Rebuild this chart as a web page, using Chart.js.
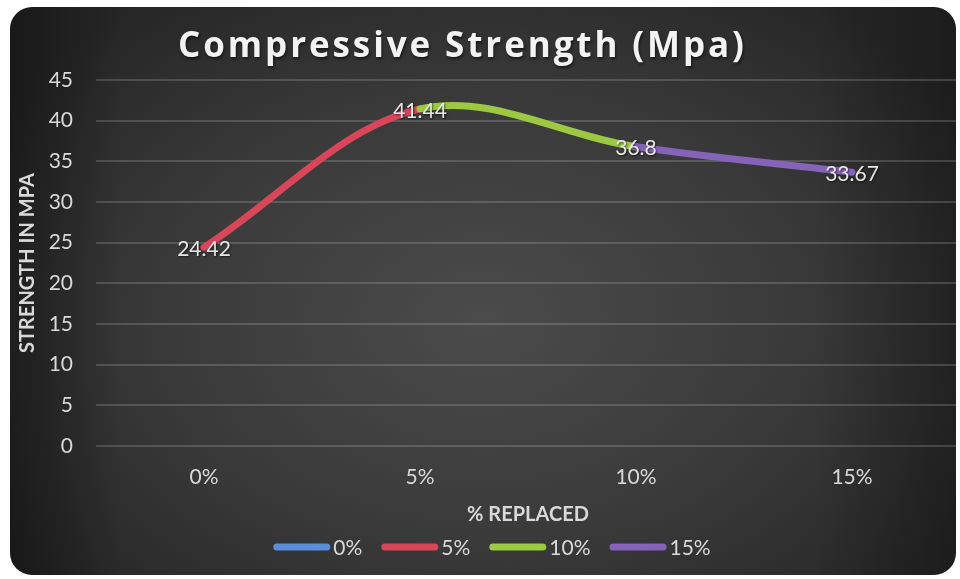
<!DOCTYPE html>
<html>
<head>
<meta charset="utf-8">
<title>Compressive Strength (Mpa)</title>
<script src="https://cdn.jsdelivr.net/npm/chart.js@4.4.1/dist/chart.umd.min.js"></script>
<style>
  html, body { margin: 0; padding: 0; background: #ffffff; }
  #wrap { position: relative; width: 960px; height: 579px; overflow: hidden; }
  #panel {
    position: absolute; left: 10px; top: 7px; width: 946px; height: 568px;
    border-radius: 22px;
    background:
      linear-gradient(90deg, rgba(0,0,0,0.35) 0%, rgba(0,0,0,0) 12%, rgba(0,0,0,0) 85%, rgba(0,0,0,0.25) 100%),
      radial-gradient(ellipse 60% 70% at 50% 55%, #4b4b4b 0%, #3a3a3a 55%, #262626 100%);
  }
  canvas { position: absolute; left: 0; top: 0; }
</style>
</head>
<body>
<div id="wrap">
  <div id="panel"></div>
  <canvas id="chart" width="960" height="579"></canvas>
</div>
<script>
// Replacement levels on the x axis
const categories = ['0%', '5%', '10%', '15%'];
// Compressive strength in MPa at each level
const strength = [24.42, 41.44, 36.8, 33.67];
// Legend series names and their colours
const seriesNames = ['0%', '5%', '10%', '15%'];
const seriesColors = ['#5b8ed8', '#d9465a', '#9cc843', '#8463b8'];
// Value axis ticks
const yMin = 0, yMax = 45, yStep = 5;

const chartTitle = 'Compressive Strength (Mpa)';
const FONT = "Lato, 'Open Sans', sans-serif";
const TEXT = '#d9d9d9';

// Draw text with extra tracking between glyphs, centred on cx
function spacedText(ctx, text, cx, y, spacing) {
  const widths = [...text].map(ch => ctx.measureText(ch).width);
  const total = widths.reduce((a, b) => a + b, 0) + spacing * (widths.length - 1);
  let x = cx - total / 2;
  ctx.textAlign = 'left';
  [...text].forEach((ch, i) => {
    ctx.fillText(ch, x, y);
    x += widths[i] + spacing;
  });
}

// Spaced-out heading at the top of the panel
const headingPlugin = {
  id: 'heading',
  afterDraw(chart) {
    const { ctx } = chart;
    ctx.save();
    ctx.font = "bold 35px 'Open Sans', sans-serif";
    ctx.textBaseline = 'alphabetic';
    ctx.fillStyle = '#f2f2f2';
    ctx.shadowColor = 'rgba(0,0,0,0.55)';
    ctx.shadowBlur = 3;
    ctx.shadowOffsetX = 1;
    ctx.shadowOffsetY = 2;
    spacedText(ctx, chartTitle, 461, 57, 2.9);
    ctx.restore();
  }
};

// Value labels centred on each point
const valueLabels = {
  id: 'valueLabels',
  afterDatasetsDraw(chart) {
    const { ctx } = chart;
    const meta = chart.getDatasetMeta(0);
    ctx.save();
    ctx.font = '21px ' + FONT;
    ctx.textAlign = 'center';
    ctx.textBaseline = 'middle';
    ctx.shadowColor = 'rgba(0,0,0,0.6)';
    ctx.shadowBlur = 2;
    ctx.shadowOffsetX = 1;
    ctx.shadowOffsetY = 1;
    ctx.fillStyle = '#e8e8e8';
    meta.data.forEach((pt, i) => {
      ctx.fillText(String(strength[i]), pt.x, pt.y + 2);
    });
    ctx.restore();
  }
};

// Series key under the axis title: rounded line swatch then name
const seriesKey = {
  id: 'seriesKey',
  afterDraw(chart) {
    const { ctx } = chart;
    const swatchW = 57, swatchH = 7, gap = 3, itemGap = 19, cy = 547, cx = 492;
    ctx.save();
    ctx.font = '21px ' + FONT;
    const tw = seriesNames.map(n => ctx.measureText(n).width);
    const total = tw.reduce((a, b) => a + b, 0) + seriesNames.length * (swatchW + gap) + itemGap * (seriesNames.length - 1);
    let x = cx - total / 2;
    ctx.textBaseline = 'middle';
    ctx.textAlign = 'left';
    seriesNames.forEach((n, i) => {
      ctx.strokeStyle = seriesColors[i];
      ctx.lineWidth = swatchH;
      ctx.lineCap = 'round';
      ctx.beginPath();
      ctx.moveTo(x + swatchH / 2, cy);
      ctx.lineTo(x + swatchW - swatchH / 2, cy);
      ctx.stroke();
      x += swatchW + gap;
      ctx.fillStyle = TEXT;
      ctx.fillText(n, x, cy + 1);
      x += tw[i] + itemGap;
    });
    ctx.restore();
  }
};

new Chart(document.getElementById('chart'), {
  type: 'line',
  data: {
    labels: categories,
    datasets: [{
      label: 'Strength',
      data: strength,
      borderWidth: 7,
      borderCapStyle: 'round',
      borderJoinStyle: 'round',
      tension: 0.35,
      pointRadius: 0,
      pointHoverRadius: 0,
      borderColor: seriesColors[1],
      segment: {
        borderColor: c => seriesColors[c.p0DataIndex + 1]
      }
    }]
  },
  options: {
    responsive: false,
    animation: false,
    devicePixelRatio: 1,
    layout: { padding: { left: 0, right: 0, top: 80, bottom: 52 } },
    plugins: {
      title: { display: false },
      legend: { display: false },
      tooltip: { enabled: false }
    },
    scales: {
      x: {
        offset: true,
        afterFit: s => { s.height = 81; },
        grid: { display: false, drawTicks: false },
        border: { display: false },
        ticks: { color: TEXT, font: { family: FONT, size: 21 }, padding: 19 },
        title: {
          display: true,
          text: '% REPLACED',
          color: TEXT,
          font: { family: FONT, size: 20, weight: 'bold' },
          padding: { top: 0, bottom: 0 }
        }
      },
      y: {
        min: yMin,
        max: yMax,
        afterFit: s => { s.width = 96; },
        ticks: { stepSize: yStep, color: TEXT, font: { family: FONT, size: 21 }, padding: 23 },
        grid: { color: 'rgba(255,255,255,0.16)', lineWidth: 2, drawTicks: false },
        border: { display: false },
        title: {
          display: true,
          text: 'STRENGTH IN MPA',
          color: TEXT,
          font: { family: FONT, size: 20, weight: 'bold' },
          padding: { top: 16, bottom: 0 }
        }
      }
    }
  },
  plugins: [valueLabels, headingPlugin, seriesKey]
});
</script>
</body>
</html>
